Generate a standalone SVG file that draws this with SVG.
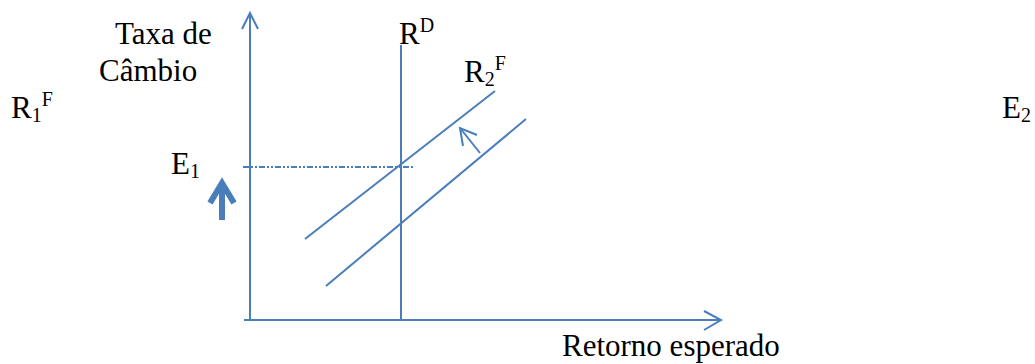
<svg xmlns="http://www.w3.org/2000/svg" width="1035" height="364" viewBox="0 0 1035 364">
<style>
.ln{stroke:#4a7ebb;stroke-width:2;fill:none}
</style>
<rect width="1035" height="364" fill="#fff"/>
<g id="connectors">
<line class="ln" x1="250" y1="321" x2="250" y2="13"/>
<polyline class="ln" points="242,29 250,13 258,29"/>
<line class="ln" x1="244" y1="320" x2="721" y2="320"/>
<polyline class="ln" points="704,311 721,320 704,330"/>
<line class="ln" x1="401" y1="45" x2="401" y2="321"/>
<line class="ln" x1="305" y1="239" x2="495" y2="91"/>
<line class="ln" x1="326" y1="286" x2="526" y2="119"/>
<line class="ln" x1="480" y1="153" x2="460" y2="128"/>
<polyline class="ln" points="463,146 460,128 477,135"/>
<line class="ln" x1="243" y1="167" x2="414" y2="167" stroke-dasharray="6,2,2,2,2,2"/>
<line x1="222" y1="220" x2="222" y2="184" stroke="#4a7ebb" stroke-width="6"/>
<polyline points="210,203 222,183 234,203" stroke="#4a7ebb" stroke-width="6" fill="none" stroke-linejoin="miter"/>
</g>
<g font-family="'Liberation Serif', 'Times New Roman', 'DejaVu Serif', serif" font-size="31" fill="#000">
<g id="axis-y-label"><text x="115" y="44">Taxa de</text><text x="99" y="81">Câmbio</text></g>
<g id="rd-label"><text x="399" y="44">R<tspan font-size="20" dy="-12">D</tspan></text></g>
<g id="r2f-label"><text x="464" y="82">R<tspan font-size="20" dy="4">2</tspan><tspan font-size="20" dy="-16">F</tspan></text></g>
<g id="r1f-label"><text x="11" y="118">R<tspan font-size="20" dy="4">1</tspan><tspan font-size="20" dy="-16">F</tspan></text></g>
<g id="e1-label"><text x="171" y="174">E<tspan font-size="20" dy="4">1</tspan></text></g>
<g id="e2-label"><text x="1002" y="118">E<tspan font-size="20" dy="4">2</tspan></text></g>
<g id="axis-x-label"><text x="562" y="356">Retorno esperado</text></g>
</g>
</svg>
